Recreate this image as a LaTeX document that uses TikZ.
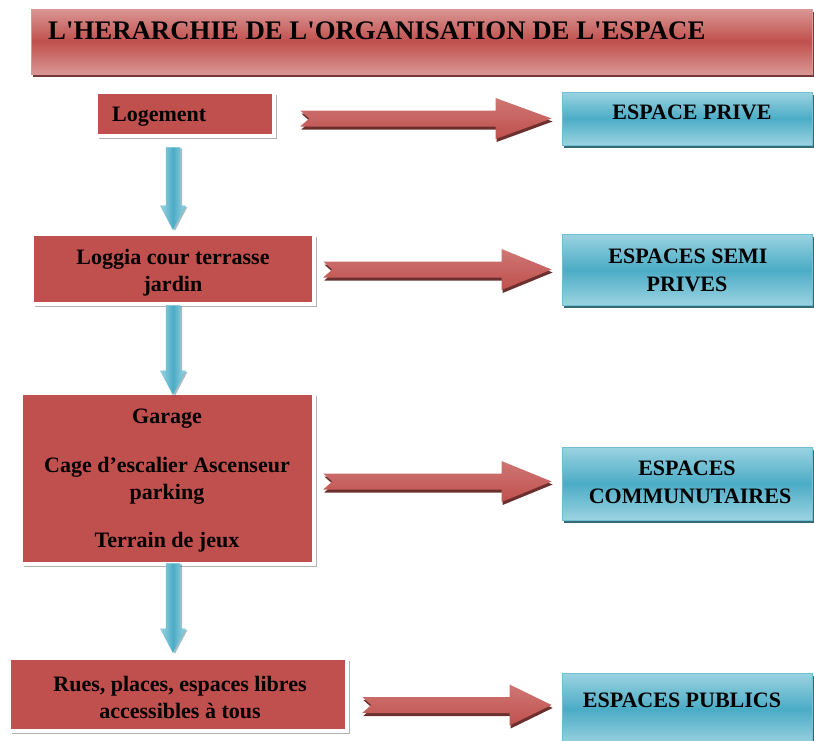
\documentclass[tikz,border=0pt]{standalone}
\usepackage{fontspec}
\setmainfont{Liberation Serif}[Ligatures=TeXOff]
\usetikzlibrary{calc,shadows}
\definecolor{cRed}{HTML}{C0504D}
\definecolor{cRedLight}{HTML}{D99694}
\definecolor{cRedDark}{HTML}{632523}
\definecolor{cBlue}{HTML}{4BACC6}
\definecolor{cBlueLight}{HTML}{9BD3E1}
\definecolor{cBlueDark}{HTML}{215968}
\definecolor{cBlueEdge}{HTML}{6FC0D4}
\tikzset{
  redbox/.style={rectangle, inner sep=0pt, fill=cRed, draw=black!25, line width=0.5pt,
    double=white, double distance=3.2pt,
    drop shadow={shadow xshift=2.5pt, shadow yshift=-3pt, fill=black, opacity=0.3}},
  bluebox/.style={rectangle, inner sep=0pt, draw=cBlueEdge, line width=0.8pt,
    top color=cBlueLight, bottom color=cBlueLight, middle color=cBlue,
    drop shadow={shadow xshift=2pt, shadow yshift=-3pt, fill=cBlueDark, opacity=0.9}},
  titlebox/.style={rectangle, inner sep=0pt, draw=cRedLight, line width=0.8pt,
    top color=cRedLight, bottom color=cRedLight, middle color=cRed,
    drop shadow={shadow xshift=2pt, shadow yshift=-3pt, fill=cRedDark, opacity=0.9}},
  lbl/.style={font=\fontsize{22}{28}\selectfont\bfseries, inner sep=0pt, anchor=base, text=black},
  titlelbl/.style={font=\fontsize{26.8}{30}\selectfont\bfseries, inner sep=0pt, anchor=base west, text=black},
  redarrow/.style={draw=none, top color=cRedLight!55!cRed, bottom color=cRed,
    drop shadow={shadow xshift=1pt, shadow yshift=-3pt, fill=cRedDark, opacity=0.95}},
  bluearrow/.style={draw=cBlueEdge, line width=0.4pt, left color=cBlueLight, right color=cBlueLight, middle color=cBlue,
    drop shadow={shadow xshift=2pt, shadow yshift=-1pt, fill=cBlueDark, opacity=0.4}}
}
% red arrow: tail, tip, head length
\newcommand{\rarr}[3]{%
  \path[redarrow] let \p1=(#1), \p2=(#2) in
    (\x1,\y2+8pt) -- (\x2-#3pt,\y2+8pt) -- (\x2-#3pt,\y2+20.5pt) -- (\x2,\y2)
    -- (\x2-#3pt,\y2-20.5pt) -- (\x2-#3pt,\y2-8pt) -- (\x1,\y2-8pt) -- (\x1+9pt,\y2) -- cycle;}
% blue down arrow: top, tip
\newcommand{\barr}[2]{%
  \path[bluearrow] let \p1=(#1), \p2=(#2) in
    (\x2-7pt,\y1) -- (\x2+7pt,\y1) -- (\x2+7pt,\y2+24pt) -- (\x2+12.5pt,\y2+24pt)
    -- (\x2,\y2) -- (\x2-12.5pt,\y2+24pt) -- (\x2-7pt,\y2+24pt) -- cycle;}
\begin{document}
\begin{tikzpicture}[x=1pt,y=-1pt]
\useasboundingbox (0,0) rectangle (814,740);
% title
\node[titlebox, minimum width=781pt, minimum height=65pt] (title) at (421.5,41.5) {};
\node[titlelbl] (titletext) at (48,39) {L'HERARCHIE DE L'ORGANISATION DE L'ESPACE};
% red boxes
\node[redbox, minimum width=178pt, minimum height=44pt] (logement) at (185,114) {};
\node[redbox, minimum width=282pt, minimum height=70pt] (loggia) at (173,269) {};
\node[redbox, minimum width=293pt, minimum height=171pt] (garage) at (167.5,478.5) {};
\node[redbox, minimum width=338pt, minimum height=73pt] (rues) at (178,694.5) {};
% blue boxes
\node[bluebox, minimum width=250pt, minimum height=53pt] (p1) at (687,118.5) {};
\node[bluebox, minimum width=250pt, minimum height=71pt] (p2) at (687,269.5) {};
\node[bluebox, minimum width=250pt, minimum height=73pt] (p3) at (687,483.5) {};
\node[bluebox, minimum width=250pt, minimum height=72pt] (p4) at (687,709) {};
% texts
\node[lbl, anchor=base west] (t1) at (112,121) {Logement};
\node[lbl] (t2a) at (173,264) {Loggia cour terrasse};
\node[lbl] (t2b) at (173,291.5) {jardin};
\node[lbl] (t3a) at (167,423) {Garage};
\node[lbl] (t3b) at (167,472) {Cage d’escalier Ascenseur};
\node[lbl] (t3c) at (167,499.5) {parking};
\node[lbl] (t3d) at (167,547) {Terrain de jeux};
\node[lbl] (t4a) at (180,691) {Rues, places, espaces libres};
\node[lbl] (t4b) at (180,718) {accessibles à tous};
\node[lbl] (s1) at (692,119) {ESPACE PRIVE};
\node[lbl] (s2a) at (688,263) {ESPACES SEMI};
\node[lbl] (s2b) at (687,291) {PRIVES};
\node[lbl] (s3a) at (687,475) {ESPACES};
\node[lbl] (s3b) at (690,503) {COMMUNUTAIRES};
\node[lbl] (s4) at (682,707) {ESPACES PUBLICS};
% coordinates for connectors
\coordinate (a1t) at ($(logement.east |- p1.west)+(26,0)$);
\coordinate (a1h) at ($(p1.west)+(-10,0)$);
\coordinate (a2t) at ($(loggia.east |- p2.west)+(9,0)$);
\coordinate (a2h) at ($(p2.west)+(-10,0)$);
\coordinate (a3t) at ($(garage.east |- p3.west)+(9,0)$);
\coordinate (a3h) at ($(p3.west)+(-10,-2)$);
\coordinate (a4t) at ($(rues.east |- p4.west)+(15,-4)$);
\coordinate (a4h) at ($(p4.west)+(-10,-4)$);
\rarr{a1t}{a1h}{56}
\rarr{a2t}{a2h}{50}
\rarr{a3t}{a3h}{50}
\rarr{a4t}{a4h}{42}
\coordinate (d1t) at ($(loggia.north |- logement.south)+(0,11)$);
\coordinate (d1h) at ($(loggia.north)+(0,-4)$);
\coordinate (d2t) at ($(loggia.south)+(0,1)$);
\coordinate (d2h) at ($(loggia.south |- garage.north)+(0,2)$);
\coordinate (d3t) at ($(loggia.south |- garage.south)+(0,-1)$);
\coordinate (d3h) at ($(loggia.south |- rues.north)+(0,-5)$);
\barr{d1t}{d1h}
\barr{d2t}{d2h}
\barr{d3t}{d3h}
\end{tikzpicture}
\end{document}
